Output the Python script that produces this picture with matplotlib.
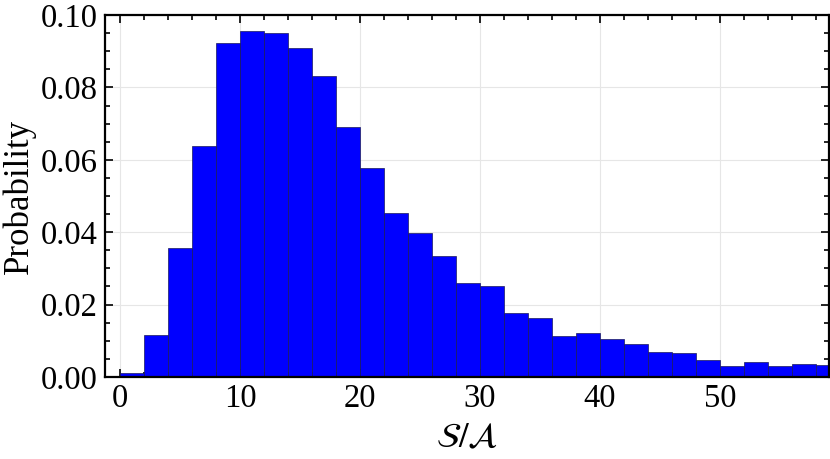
import matplotlib
matplotlib.use("Agg")
import matplotlib.pyplot as plt
from matplotlib.ticker import MultipleLocator

plt.rcParams["font.family"] = ["Liberation Serif", "DejaVu Serif"]
plt.rcParams["mathtext.fontset"] = "stix"

# histogram bins of width 2, probability per bin
bin_edges = list(range(0, 62, 2))
probs = [0.0010, 0.0116, 0.0357, 0.0638, 0.0924, 0.0955, 0.0950, 0.0909,
         0.0833, 0.0691, 0.0578, 0.0452, 0.0399, 0.0335, 0.0260, 0.0252,
         0.0176, 0.0163, 0.0114, 0.0121, 0.0105, 0.0090, 0.0070, 0.0066,
         0.0046, 0.0029, 0.0042, 0.0030, 0.0036, 0.0033]

fig = plt.figure(figsize=(8.3, 4.59), dpi=100)
ax = fig.add_axes([0.1265, 0.179, 0.8725, 0.788])

ax.bar(bin_edges[:-1], probs, width=2, align="edge", color="#0000ff",
       edgecolor="#1a1a5a", linewidth=0.5, zorder=2)

ax.set_xlim(-1.25, 59.1)
ax.set_ylim(0, 0.1)
ax.xaxis.set_major_locator(MultipleLocator(10))
ax.xaxis.set_minor_locator(MultipleLocator(2))
ax.yaxis.set_major_locator(MultipleLocator(0.02))
ax.yaxis.set_minor_locator(MultipleLocator(0.005))
ax.yaxis.set_major_formatter(plt.FormatStrFormatter("%.2f"))

ax.grid(True, which="major", color="#e6e6e6", linewidth=0.8, zorder=0)
ax.set_axisbelow(True)

ax.tick_params(which="both", direction="in", top=True, right=True,
               labelsize=23.5, width=1.2, pad=5)
ax.tick_params(which="major", length=6)
ax.tick_params(which="minor", length=3.5)
for s in ax.spines.values():
    s.set_linewidth(1.6)

ax.set_ylabel("Probability", fontsize=25, labelpad=4)
ax.set_xlabel(r"$\mathcal{S}/\mathcal{A}$", fontsize=25, labelpad=6)

fig.savefig("out.png", dpi=100)
